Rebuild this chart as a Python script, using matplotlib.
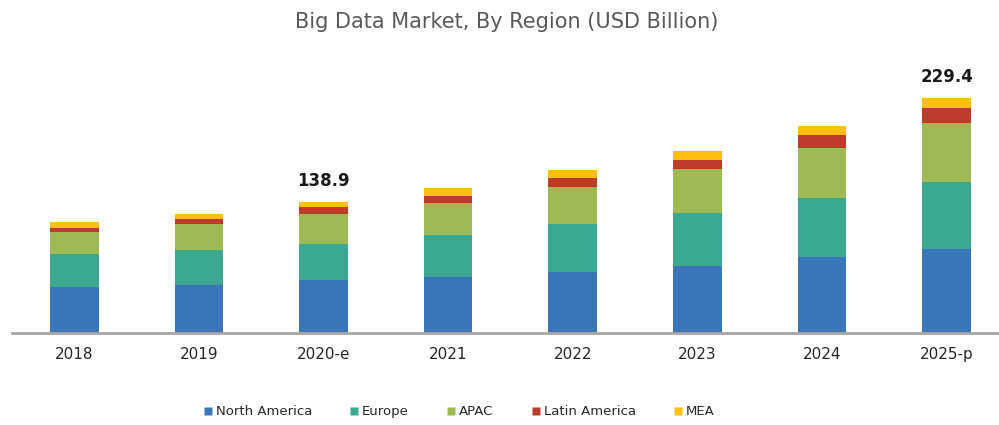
import matplotlib
matplotlib.use("Agg")
import matplotlib.pyplot as plt
import numpy as np
from matplotlib.lines import Line2D

years = ["2018", "2019", "2020-e", "2021", "2022", "2023", "2024", "2025-p"]
north_america = [45.4, 47.0, 51.5, 54.9, 60.1, 66.0, 74.5, 82.3]
europe = [31.8, 34.3, 35.6, 40.9, 46.5, 51.4, 57.8, 66.0]
apac = [22.1, 25.5, 29.1, 31.1, 36.8, 43.4, 49.0, 57.8]
latin_america = [3.9, 4.6, 6.9, 7.2, 8.2, 8.8, 12.3, 14.1]
mea = [5.9, 5.2, 4.9, 7.5, 8.1, 8.8, 8.8, 9.8]
series_names = ["North America", "Europe", "APAC", "Latin America", "MEA"]
annot_years = ["2020-e", "2025-p"]
annot_labels = ["138.9", "229.4"]

colors = ["#3a75b8", "#3aa98f", "#9dba55", "#be3b2b", "#fdc010"]

fig = plt.figure(figsize=(9.99, 4.25), dpi=100)
ax = fig.add_axes([12/999, 92/425, 987/999, 293/425])

x = np.arange(len(years))
bottom = np.zeros(len(years))
for vals, c in zip([north_america, europe, apac, latin_america, mea], colors):
    ax.bar(x, vals, width=0.39, bottom=bottom, color=c, edgecolor="none", zorder=2)
    bottom += np.array(vals)

for yr, lab in zip(annot_years, annot_labels):
    i = years.index(yr)
    ax.annotate(lab, (x[i], bottom[i]), xytext=(0, 9), textcoords="offset points",
                ha="center", va="bottom", fontsize=12, fontweight="bold", color="#1a1a1a")

ax.set_xlim(-0.5, 7.42)
ax.set_ylim(0, 287)
for s in ["top", "right", "left"]:
    ax.spines[s].set_visible(False)
ax.spines["bottom"].set_color("#a6a6a6")
ax.spines["bottom"].set_linewidth(2)
ax.set_yticks([])
ax.set_xticks(x)
ax.set_xticklabels(years, fontsize=11, color="#262626")
ax.tick_params(axis="x", length=0, pad=10)

fig.text(0.507, 0.948, "Big Data Market, By Region (USD Billion)", ha="center", va="center",
         fontsize=15, color="#595959")

handles = [Line2D([0], [0], marker="s", linestyle="none", markersize=6,
                  markerfacecolor=c, markeredgecolor="none") for c in colors]
fig.legend(handles, series_names, loc="center", bbox_to_anchor=(0.459, 0.031), ncol=5,
           frameon=False, fontsize=9.5, handletextpad=0.2, columnspacing=2.8,
           handlelength=0.8, labelcolor="#262626")

fig.savefig("out.png", dpi=100)
